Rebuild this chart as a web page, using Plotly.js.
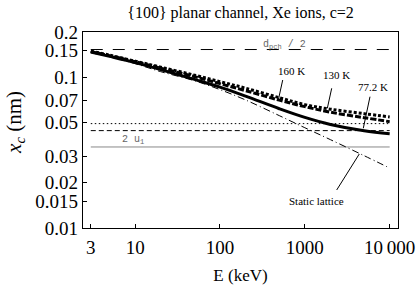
<!DOCTYPE html>
<html>
<head>
<meta charset="utf-8">
<script src="https://cdn.plot.ly/plotly-3.0.1.min.js"></script>
<style>html,body{margin:0;padding:0;background:#fff;}#chart{width:418px;height:287px;}</style>
</head>
<body>
<div id="chart"></div>
<script>
// Energies (keV)
const energy = [3, 5, 10, 20, 50, 100, 200, 500, 1000, 2000, 5000, 10000];
// Critical distance x_c (nm)
const xc_static = [0.1475, 0.1373, 0.1233, 0.1091, 0.0950, 0.0829, 0.0708, 0.0557, 0.0463, 0.0386, 0.0302, 0.0250];
const xc_77K   = [0.1475, 0.1378, 0.1252, 0.1126, 0.0969, 0.0862, 0.0751, 0.0619, 0.0542, 0.0487, 0.0442, 0.0422];
const xc_130K  = [0.1482, 0.1393, 0.1271, 0.1151, 0.1011, 0.0908, 0.0816, 0.0706, 0.0639, 0.0587, 0.0540, 0.0508];
const xc_160K  = [0.1493, 0.1404, 0.1281, 0.1169, 0.1034, 0.0936, 0.0848, 0.0733, 0.0659, 0.0615, 0.0574, 0.0546];
// Reference levels (nm)
const refX = [3, 10000];
const dpch_half = 0.153;
const level_dotted = 0.0493;
const level_dashed = 0.0443;
const two_u1 = 0.0345;
// Ticks
const xTickVals = [3, 10, 100, 1000, 10000];
const xTickText = ['3', '10', '100', '1000', '10\u2009000'];
const yTickVals = [0.01, 0.015, 0.02, 0.03, 0.05, 0.07, 0.1, 0.15, 0.2];
const yTickText = ['0.01', '0.015', '0.02', '0.03', '0.05', '0.07', '0.1', '0.15', '0.2'];

const serif = '"Liberation Serif", "Times New Roman", serif';
const mono = '"Liberation Mono", "Courier New", monospace';

function hline(v, color, dash, width) {
  return {x: refX, y: refX.map(() => v), mode: 'lines', type: 'scatter',
          line: {color: color, dash: dash, width: width}, hoverinfo: 'skip'};
}

const traces = [
  hline(dpch_half, '#000', '12px,10px', 1),
  hline(level_dotted, '#000', '1.5px,2.5px', 1),
  hline(level_dashed, '#000', '5px,3px', 1),
  hline(two_u1, '#888', 'solid', 1),
  {x: energy, y: xc_static, mode: 'lines', type: 'scatter', line: {color: '#000', width: 1, dash: '7px,3px,1px,3px', shape: 'spline'}},
  {x: energy, y: xc_77K, mode: 'lines', type: 'scatter', line: {color: '#000', width: 3, shape: 'spline'}},
  {x: energy, y: xc_130K, mode: 'lines', type: 'scatter', line: {color: '#000', width: 3, dash: '6px,2px', shape: 'spline'}},
  {x: energy, y: xc_160K, mode: 'lines', type: 'scatter', line: {color: '#000', width: 3, dash: '3px,2px', shape: 'spline'}}
];

function label(lx, ly, text, font) {
  return {x: lx, y: ly, xref: 'x', yref: 'y', text: text, showarrow: false, font: font};
}
const lblFont = {family: serif, size: 11, color: '#000'};
const annotations = [
  label(2.765, -0.783, 'd<sub>pch</sub> / 2', {family: mono, size: 10, color: '#666'}),
  label(0.976, -1.414, '2 u<sub>1</sub>', {family: mono, size: 10, color: '#666'}),
  label(2.844, -0.960, '160 K', lblFont),
  label(3.373, -0.982, '130 K', lblFont),
  label(3.804, -1.064, '77.2 K', lblFont),
  label(3.138, -1.819, 'Static lattice', lblFont),
  {xref: 'paper', yref: 'paper', x: -0.216, y: 0.541, xanchor: 'center', yanchor: 'middle',
   textangle: -90, showarrow: false, text: '<i>x</i><sub><i>c</i></sub> (nm)',
   font: {family: serif, size: 21, color: '#000'}}
];

function pointer(x0, y0, x1, y1) {
  return {type: 'line', xref: 'paper', yref: 'paper', x0: x0, y0: y0, x1: x1, y1: y1,
          line: {color: '#000', width: 1}};
}
const shapes = [
  pointer(0.634, 0.755, 0.620, 0.653),
  pointer(0.7895, 0.7128, 0.7756, 0.6107),
  pointer(0.9111, 0.6699, 0.8898, 0.5087),
  pointer(0.8054, 0.1939, 0.8771, 0.3776)
];

const layout = {
  width: 418, height: 287,
  margin: {l: 83, r: 20, t: 32, b: 59, pad: 0},
  paper_bgcolor: '#fff', plot_bgcolor: '#fff',
  showlegend: false,
  font: {family: serif, color: '#000'},
  title: {text: '{100} planar channel, Xe ions, c=2', font: {family: serif, size: 16, color: '#000'},
          x: 0.5, xref: 'paper', y: 0.956, yref: 'container', yanchor: 'middle'},
  xaxis: {type: 'log', range: [Math.log10(2.43), 4.098], tickvals: xTickVals, ticktext: xTickText,
          ticks: 'inside', ticklen: 4, tickcolor: '#000', showgrid: false, zeroline: false,
          showline: true, linecolor: '#000', linewidth: 1.2, mirror: true,
          tickfont: {family: serif, size: 19, color: '#000'}, ticklabelstandoff: 2,
          title: {text: 'E (keV)', font: {family: serif, size: 17, color: '#000'}, standoff: 12}},
  yaxis: {type: 'log', range: [-2, Math.log10(0.2)], tickvals: yTickVals, ticktext: yTickText,
          ticks: 'inside', ticklen: 4, tickcolor: '#000', showgrid: false, zeroline: false,
          showline: true, linecolor: '#000', linewidth: 1.2, mirror: true,
          tickfont: {family: serif, size: 19, color: '#000'}, ticklabelstandoff: 0},
  annotations: annotations,
  shapes: shapes
};

Plotly.newPlot('chart', traces, layout, {staticPlot: true, displayModeBar: false});
</script>
</body>
</html>
